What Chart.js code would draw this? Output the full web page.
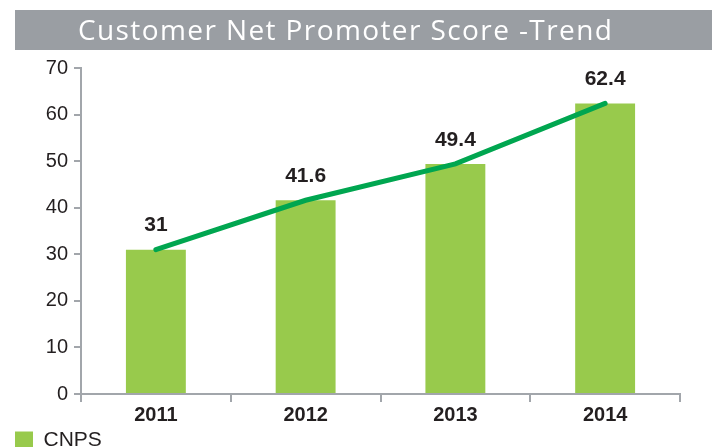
<!DOCTYPE html>
<html>
<head>
<meta charset="utf-8">
<script src="https://cdn.jsdelivr.net/npm/chart.js@4/dist/chart.umd.min.js"></script>
<style>
  html, body { margin: 0; padding: 0; background: #fff; }
  #wrap { width: 712px; height: 447px; }
</style>
</head>
<body>
<div id="wrap"><canvas id="npsChart" width="712" height="447"></canvas></div>
<script>
// data
const years = ['2011', '2012', '2013', '2014'];
const cnps = [31, 41.6, 49.4, 62.4];
const yTicks = [0, 10, 20, 30, 40, 50, 60, 70];
const chartTitle = 'Customer Net Promoter Score -Trend';

const axisGray = '#A2A6AB';
const arial = '"Liberation Sans", Arial, sans-serif';

// grey banner with the title in it
const bannerPlugin = {
    id: 'banner',
    beforeDraw(chart) {
        const ctx = chart.ctx;
        ctx.save();
        ctx.fillStyle = '#9A9EA3';
        ctx.fillRect(15, 10, chart.width - 15, 40);
        ctx.fillStyle = '#ffffff';
        ctx.font = '28px "Open Sans", sans-serif';
        ctx.letterSpacing = '1.4px';
        ctx.textAlign = 'left';
        ctx.textBaseline = 'alphabetic';
        ctx.fillText(chartTitle, 78, 40);
        ctx.restore();
    }
};

// value labels above the bars
const valueLabels = {
    id: 'valueLabels',
    afterDatasetsDraw(chart) {
        const ctx = chart.ctx;
        const meta = chart.getDatasetMeta(1);
        ctx.save();
        ctx.font = 'bold 21px ' + arial;
        ctx.fillStyle = '#231F20';
        ctx.textAlign = 'center';
        ctx.textBaseline = 'middle';
        meta.data.forEach((bar, i) => {
            ctx.fillText(String(cnps[i]), bar.x, bar.y - 24);
        });
        ctx.restore();
    }
};

const ctx = document.getElementById('npsChart').getContext('2d');
new Chart(ctx, {
    type: 'bar',
    data: {
        labels: years,
        datasets: [{
            type: 'line',
            label: 'Trend',
            data: cnps,
            borderColor: '#00A650',
            borderWidth: 5,
            borderCapStyle: 'round',
            pointRadius: 0,
            tension: 0,
            order: 0
        }, {
            label: 'CNPS',
            data: cnps,
            backgroundColor: '#98CA4C',
            barPercentage: 0.4,
            categoryPercentage: 1,
            order: 1
        }]
    },
    options: {
        responsive: false,
        animation: false,
        layout: { padding: { left: 13, right: 32, top: 68, bottom: -14 } },
        plugins: {
            legend: {
                position: 'bottom',
                align: 'start',
                labels: {
                    filter: item => item.text === 'CNPS',
                    boxWidth: 18,
                    boxHeight: 18,
                    color: '#231F20',
                    font: { family: arial, size: 21 },
                    padding: 2
                }
            },
            tooltip: { enabled: false }
        },
        scales: {
            x: {
                grid: { drawOnChartArea: false, drawTicks: true, tickLength: 8, color: axisGray, lineWidth: 2 },
                border: { color: axisGray, width: 2 },
                ticks: {
                    color: '#231F20',
                    padding: 3,
                    font: { family: arial, size: 20, weight: 'bold', lineHeight: 1 }
                }
            },
            y: {
                min: 0,
                max: 70,
                afterBuildTicks: scale => { scale.ticks = yTicks.map(v => ({ value: v })); },
                afterFit: scale => { scale.width = 68; },
                grid: { drawOnChartArea: false, drawTicks: true, tickLength: 7, color: axisGray, lineWidth: 2 },
                border: { color: axisGray, width: 2 },
                ticks: {
                    color: '#231F20',
                    padding: 6,
                    font: { family: arial, size: 20 }
                }
            }
        }
    },
    plugins: [bannerPlugin, valueLabels]
});
</script>
</body>
</html>
